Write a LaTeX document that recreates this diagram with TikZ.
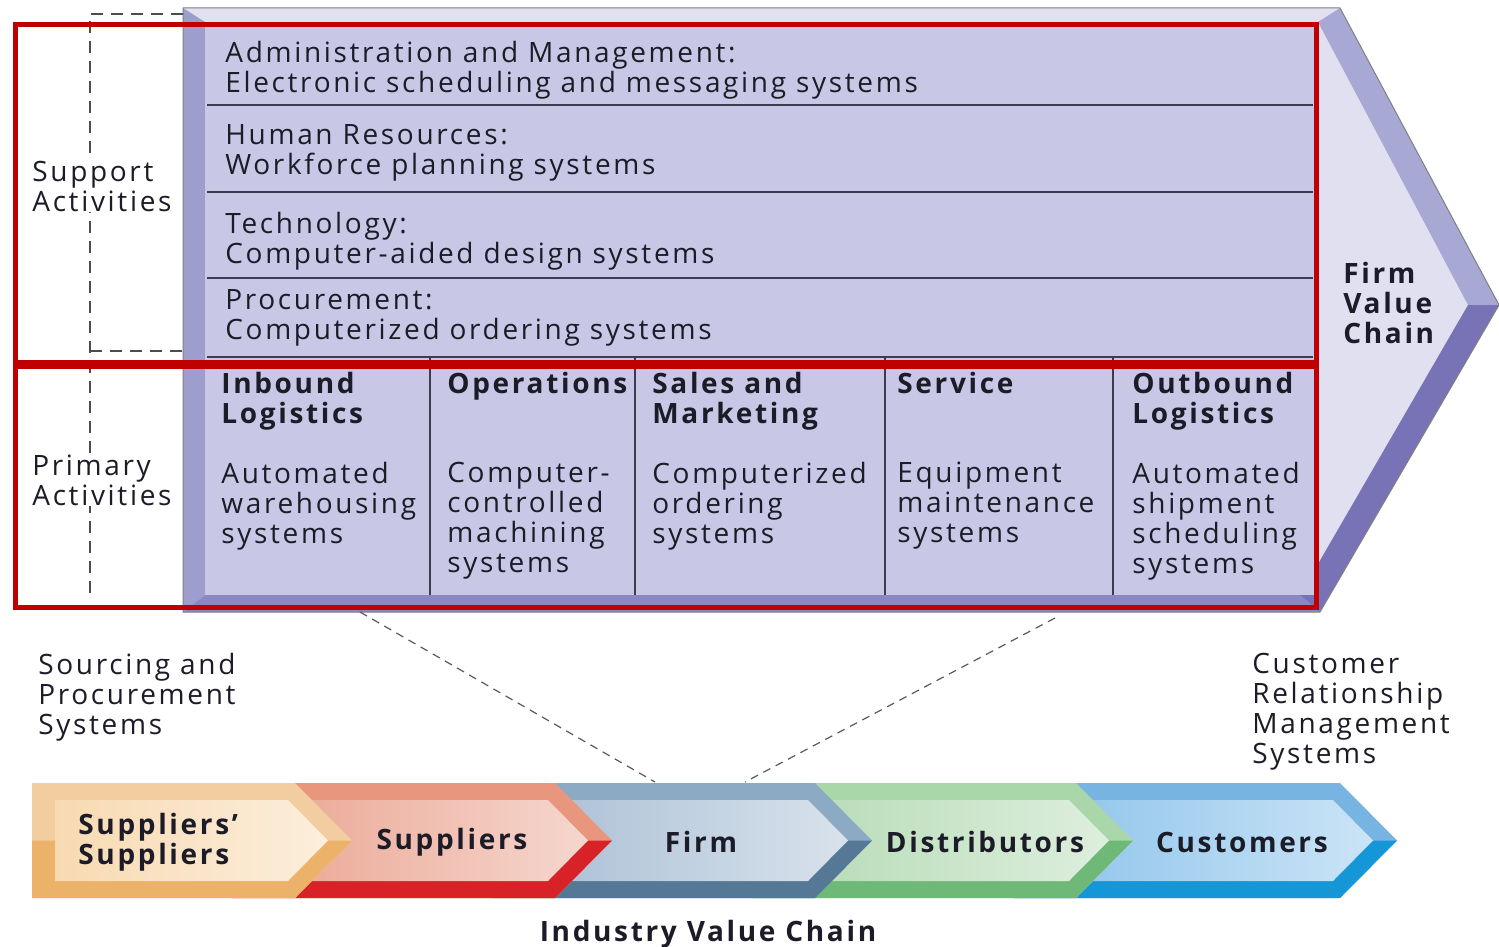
\documentclass[tikz,border=0pt]{standalone}
\usepackage{fontspec}
\setmainfont[LetterSpace=9.5]{Open Sans}
\usepackage{tikz}
\usetikzlibrary{calc}
\definecolor{textdark}{RGB}{28,28,40}
\definecolor{facelight}{RGB}{224,224,241}
\definecolor{cell}{RGB}{200,200,230}
\definecolor{bevelleft}{RGB}{158,158,206}
\definecolor{bevelbottom}{RGB}{140,135,195}
\definecolor{bevelup}{RGB}{168,168,212}
\definecolor{bevellow}{RGB}{120,115,182}
\definecolor{gridline}{RGB}{60,60,80}
\definecolor{redframe}{RGB}{192,0,0}
\definecolor{ortop}{RGB}{242,205,160}\definecolor{orface}{RGB}{248,218,178}\definecolor{orbot}{RGB}{236,178,105}
\definecolor{rdtop}{RGB}{232,150,125}\definecolor{rdface}{RGB}{234,165,145}\definecolor{rdbot}{RGB}{215,35,40}
\definecolor{fmtop}{RGB}{140,170,195}\definecolor{fmface}{RGB}{168,190,212}\definecolor{fmbot}{RGB}{85,120,150}
\definecolor{grtop}{RGB}{170,215,170}\definecolor{grface}{RGB}{180,218,180}\definecolor{grbot}{RGB}{110,185,120}
\definecolor{bltop}{RGB}{120,180,225}\definecolor{blface}{RGB}{140,195,235}\definecolor{blbot}{RGB}{20,150,215}
% left x, tip x, top colour, face colour, bottom colour
\newcommand{\chevron}[5]{%
  \fill[#3] (#1,783) -- ({#2-57},783) -- (#2,840.5) -- ({#2-57},898) -- (#1,898) -- cycle;
  \fill[#5] (#1,840.5) -- (#2,840.5) -- ({#2-57},898) -- (#1,898) -- cycle;
  \shade[left color=#4, right color=#4!45!white] ({#1+23},800) -- ({#2-64},800) -- ({#2-24},840.5) -- ({#2-64},881) -- ({#1+23},881) -- cycle;}
\tikzset{
  txt/.style={anchor=north west, inner sep=0pt, align=left, text=textdark, font=\fontsize{14}{15}\selectfont},
  headtxt/.style={txt, font=\fontsize{14}{15}\selectfont\bfseries},
  grid/.style={gridline, line width=0.8pt},
  frame/.style={redframe, line width=2.5pt},
  bracket/.style={gray!60!black, line width=1pt, dash pattern=on 6pt off 4pt},
  zoomline/.style={gray!70!black, line width=0.6pt, dash pattern=on 4pt off 3pt}
}
\begin{document}
\begin{tikzpicture}[x=0.5pt,y=-0.5pt]
	\useasboundingbox (0,0) rectangle (1499,947);
	%FIRM ARROW
	\fill[facelight] (183,8) -- (1340,8) -- (1499,305) -- (1320,612) -- (183,612) -- cycle;
	\fill[bevelleft] (183,8) -- (205,22) -- (205,595) -- (183,612) -- cycle;
	\fill[bevelbottom] (183,612) -- (205,595) -- (1300,595) -- (1320,612) -- cycle;
	\fill[bevelup] (1340,8) -- (1499,305) -- (1468,305) -- (1318,22) -- cycle;
	\fill[bevellow] (1499,305) -- (1320,612) -- (1300,595) -- (1468,305) -- cycle;
	\fill[cell] (205,22) rectangle (1316,595);
	\draw[gray, line width=0.5pt] (183,8) -- (1340,8) -- (1499,305) -- (1320,612) -- (183,612) -- cycle;
	
	%TABLE LINES
	\foreach \y in {105,192,278,357} \draw[grid] (207,\y) -- (1313,\y);
	\foreach \x in {430,635,885,1113} \draw[grid] (\x,357) -- (\x,595);
	
	%DASHED BRACKET
	\draw[bracket] (183,14) -- (90,14) -- (90,600);
	\draw[bracket] (90,351) -- (183,351);
	
	%RED FRAMES
	\draw[frame] (15,25) rectangle (1316,362);
	\draw[frame] (15,366) rectangle (1316,607);
	
	%SUPPORT ROWS
	\node[txt] (admin) at (225,41) {Administration and Management:\\Electronic scheduling and messaging systems};
	\node[txt] (hr) at (225,124) {Human Resources:\\Workforce planning systems};
	\node[txt] (tech) at (225,212) {Technology:\\Computer-aided design systems};
	\node[txt] (proc) at (225,289) {Procurement:\\Computerized ordering systems};
	
	%PRIMARY COLUMNS
	\foreach \x/\name/\head/\body in {
		221/inb/{Inbound\\Logistics}/{Automated\\warehousing\\systems},
		447/ops/{Operations}/{Computer-\\controlled\\machining\\systems},
		652/sal/{Sales and\\Marketing}/{Computerized\\ordering\\systems},
		897/ser/{Service}/{Equipment\\maintenance\\systems},
		1132/out/{Outbound\\Logistics}/{Automated\\shipment\\scheduling\\systems}}{
		\node[headtxt] (\name-h) at (\x,372) {\head};
		\node[txt] (\name-b) at (\x,462) {\body};
	}
	
	%SIDE LABELS
	\node[txt, fill=white] (support) at (32,161) {Support\\Activities};
	\node[txt, fill=white] (primary) at (32,455) {Primary\\Activities};
	\node[headtxt] (fvc) at (1343,262) {Firm\\Value\\Chain};
	\node[txt] (sourcing) at (38,653) {Sourcing and\\Procurement\\Systems};
	\node[txt] (crm) at (1252,653) {Customer\\Relationship\\Management\\Systems};
	
	%ZOOM LINES
	\coordinate (zl) at (360,612);
	\coordinate (zr) at (1055,618);
	\coordinate (fl) at (655,782);
	\coordinate (fr) at (745,782);
	\draw[zoomline] (zl) -- (fl);
	\draw[zoomline] (zr) -- (fr);
	
	%INDUSTRY CHAIN
	\chevron{1013}{1397}{bltop}{blface}{blbot}
	\chevron{752}{1133}{grtop}{grface}{grbot}
	\chevron{492}{872}{fmtop}{fmface}{fmbot}
	\chevron{232}{612}{rdtop}{rdface}{rdbot}
	\chevron{32}{352}{ortop}{orface}{orbot}
	
	%CHAIN LABELS
	\node[headtxt, anchor=west] (ss) at (78,842) {Suppliers’\\Suppliers};
	\node[headtxt, anchor=center] (sup) at (452,842) {Suppliers};
	\node[headtxt, anchor=center] (firm) at (701,842) {Firm};
	\node[headtxt, anchor=center] (dist) at (985,842) {Distributors};
	\node[headtxt, anchor=center] (cust) at (1242,842) {Customers};
	\node[headtxt, anchor=north] (ivc) at (708,920) {Industry Value Chain};
\end{tikzpicture}
\end{document}
